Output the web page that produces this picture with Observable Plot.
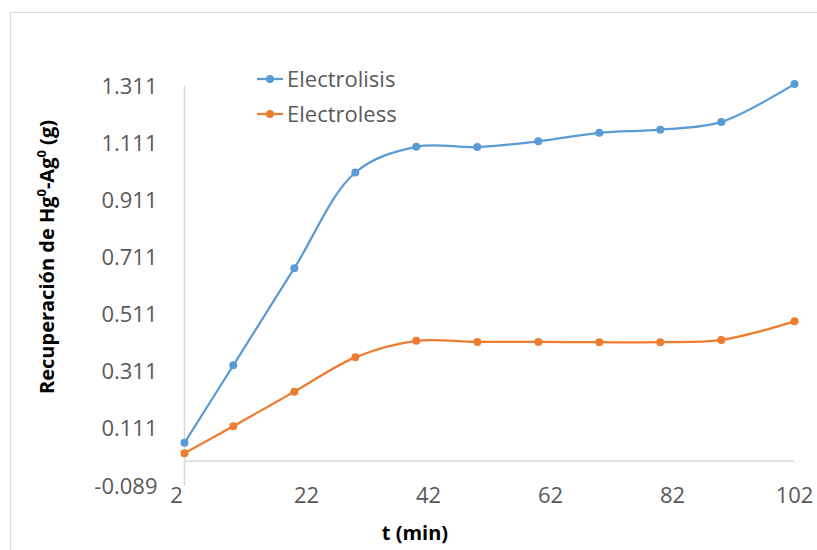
<!DOCTYPE html>
<html>
<head>
<meta charset="utf-8">
<script src="https://cdn.jsdelivr.net/npm/d3@7"></script>
<script src="https://cdn.jsdelivr.net/npm/@observablehq/plot@0.6"></script>
<style>
  html, body { margin: 0; padding: 0; background: #fff; }
  #chart svg { display: block; }
</style>
</head>
<body>
<div id="chart"></div>
<script>
// Recovery of Hg0-Ag0 over time, two methods
const times = [2, 10, 20, 30, 40, 50, 60, 70, 80, 90, 102];
const electrolisis = [0.064, 0.335, 0.675, 1.010, 1.100, 1.099, 1.119, 1.149, 1.160, 1.187, 1.320];
const electroless = [0.027, 0.122, 0.243, 0.363, 0.421, 0.417, 0.417, 0.416, 0.416, 0.424, 0.489];
const seriesNames = ["Electrolisis", "Electroless"];
const seriesColors = ["#5B9BD5", "#ED7D31"];
const yTicks = [-0.089, 0.111, 0.311, 0.511, 0.711, 0.911, 1.111, 1.311];
const xTicks = [2, 22, 42, 62, 82, 102];

const rows = [];
[electrolisis, electroless].forEach((vals, i) => {
  vals.forEach((v, j) => rows.push({series: seriesNames[i], t: times[j], v}));
});

const font = "'Open Sans', sans-serif";
const axisGray = "#d9d9d9";

const chart = Plot.plot({
  width: 817,
  height: 550,
  marginLeft: 184,
  marginRight: 23,
  marginTop: 86,
  marginBottom: 64,
  style: {fontFamily: font, background: "#fff", color: "#595959"},
  x: {domain: [2, 102]},
  y: {domain: [-0.089, 1.311]},
  color: {domain: seriesNames, range: seriesColors},
  marks: [
    // vertical axis line and horizontal axis crossing at y = 0
    Plot.ruleX([2], {y1: -0.089, y2: 1.311, stroke: axisGray, strokeWidth: 1.5}),
    Plot.ruleY([0], {x1: 2, x2: 102, stroke: axisGray, strokeWidth: 1.5}),
    Plot.axisY({ticks: yTicks, tickSize: 0, tickPadding: 27, tickFormat: d => d.toFixed(3),
      fontSize: 22, color: "#595959", label: null}),
    Plot.axisX({ticks: xTicks, tickSize: 0, tickPadding: 1, tickFormat: d => String(d),
      fontSize: 22, color: "#595959", label: null}),
    Plot.line(rows, {x: "t", y: "v", z: "series", stroke: "series", curve: "catmull-rom", strokeWidth: 2.25}),
    Plot.dot(rows, {x: "t", y: "v", fill: "series", r: 4})
  ]
});

document.getElementById("chart").appendChild(chart);

const svg = d3.select(chart);

// nudge the "2" label left of the vertical axis line
svg.selectAll("g[aria-label='x-axis tick label'] text")
  .filter(function() { return this.textContent === "2"; })
  .attr("dx", -8);

// chart area frame (left and top edges)
svg.append("path")
  .attr("d", "M10.5,550 V12.5 H817")
  .attr("fill", "none")
  .attr("stroke", axisGray)
  .attr("stroke-width", 1.2);

// y axis title with superscripts
const yTitle = svg.append("text")
  .attr("transform", "translate(54,257) rotate(-90)")
  .attr("text-anchor", "middle")
  .attr("font-family", font)
  .attr("font-weight", "bold")
  .attr("font-size", 20)
  .attr("fill", "#000");
yTitle.append("tspan").text("Recuperación de Hg");
yTitle.append("tspan").attr("dy", -8).attr("font-size", 13).text("0");
yTitle.append("tspan").attr("dy", 8).text("-Ag");
yTitle.append("tspan").attr("dy", -8).attr("font-size", 13).text("0");
yTitle.append("tspan").attr("dy", 8).text(" (g)");

// x axis title
svg.append("text")
  .attr("x", 415)
  .attr("y", 540)
  .attr("text-anchor", "middle")
  .attr("font-family", font)
  .attr("font-weight", "bold")
  .attr("font-size", 20)
  .attr("fill", "#000")
  .text("t (min)");

// legend
const legend = svg.append("g")
  .attr("font-family", font)
  .attr("font-size", 22)
  .attr("text-anchor", "start");
seriesNames.forEach((name, i) => {
  const y = 79 + i * 35;
  const g = legend.append("g");
  g.append("line").attr("x1", 257).attr("x2", 283).attr("y1", y).attr("y2", y)
    .attr("stroke", seriesColors[i]).attr("stroke-width", 2.25);
  g.append("circle").attr("cx", 270).attr("cy", y).attr("r", 4).attr("fill", seriesColors[i]);
  g.append("text").attr("x", 287).attr("y", y).attr("dy", "0.35em")
    .attr("fill", "#595959").text(name);
});
</script>
</body>
</html>
